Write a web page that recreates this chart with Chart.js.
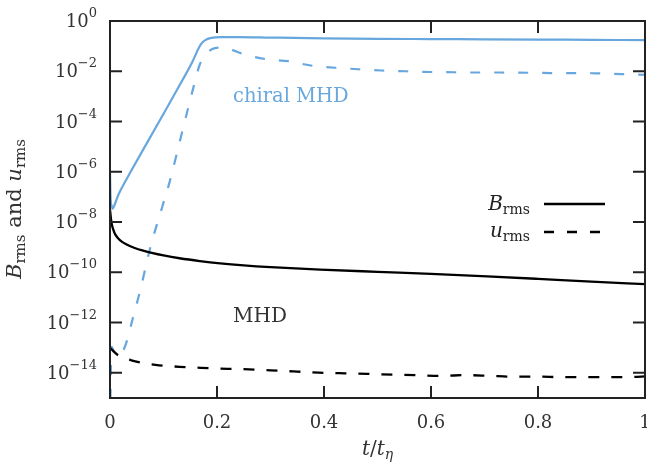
<!DOCTYPE html>
<html><head><meta charset="utf-8">
<script src="https://cdn.jsdelivr.net/npm/chart.js@4.4.1/dist/chart.umd.min.js"></script>
<style>html,body{margin:0;padding:0;background:#fff;}#wrap{width:647px;height:468px;position:relative;}</style>
</head><body><div id="wrap"><canvas id="c"></canvas></div>
<script>
// ---- axis ticks ----
const xTicks = [0, 0.2, 0.4, 0.6, 0.8, 1];
const xTickLabels = ['0', '0.2', '0.4', '0.6', '0.8', '1'];
const yTickExponents = [0, -2, -4, -6, -8, -10, -12, -14];

// ---- chiral MHD, B_rms (log10 values) ----
const tChiralB   = [0, 0.001, 0.003, 0.005, 0.008, 0.012, 0.016, 0.02, 0.037, 0.075, 0.112, 0.135, 0.155, 0.163, 0.17, 0.178, 0.19, 0.206, 0.24, 0.3, 0.4, 0.5, 0.6, 0.7, 0.8, 0.9, 1.0];
const logChiralB = [-6.0, -7.0, -7.35, -7.47, -7.35, -7.12, -6.9, -6.72, -6.06, -4.63, -3.24, -2.37, -1.58, -1.2, -0.92, -0.76, -0.67, -0.64, -0.64, -0.66, -0.69, -0.71, -0.72, -0.73, -0.74, -0.75, -0.76];

// ---- chiral MHD, u_rms (log10 values) ----
const tChiralU   = [0, 0.003, 0.008, 0.014, 0.02, 0.026, 0.032, 0.043, 0.056, 0.075, 0.097, 0.112, 0.135, 0.155, 0.168, 0.183, 0.196, 0.206, 0.224, 0.247, 0.292, 0.333, 0.378, 0.421, 0.464, 0.508, 0.553, 0.6, 0.643, 0.688, 0.731, 0.822, 0.907, 0.955, 1.0];
const logChiralU = [-16, -12.96, -13.2, -13.3, -13.25, -13.05, -12.7, -11.8, -10.76, -9.04, -7.44, -6.36, -4.4, -2.72, -1.72, -1.24, -1.08, -1.06, -1.12, -1.3, -1.52, -1.6, -1.78, -1.86, -1.92, -1.97, -2.0, -2.03, -2.04, -2.05, -2.05, -2.07, -2.08, -2.11, -2.14];

// ---- MHD, B_rms (log10 values) ----
const tMhdB   = [0, 0.002, 0.004, 0.007, 0.01, 0.015, 0.022, 0.032, 0.045, 0.062, 0.08, 0.1, 0.13, 0.168, 0.206, 0.25, 0.3, 0.393, 0.5, 0.6, 0.705, 0.8, 0.9, 1.0];
const logMhdB = [-7.5, -7.9, -8.15, -8.35, -8.5, -8.64, -8.78, -8.9, -9.02, -9.14, -9.24, -9.33, -9.44, -9.55, -9.64, -9.72, -9.79, -9.89, -9.98, -10.06, -10.16, -10.26, -10.37, -10.47];

// ---- MHD, u_rms (log10 values) ----
const tMhdU   = [0, 0.015, 0.04, 0.06, 0.085, 0.13, 0.17, 0.22, 0.26, 0.3, 0.35, 0.39, 0.44, 0.48, 0.53, 0.57, 0.62, 0.665, 0.71, 0.755, 0.8, 0.843, 0.89, 0.935, 0.98, 1.0];
const logMhdU = [-13.0, -13.3, -13.5, -13.6, -13.68, -13.76, -13.8, -13.84, -13.86, -13.9, -13.95, -13.99, -14.02, -14.04, -14.07, -14.09, -14.12, -14.09, -14.12, -14.15, -14.15, -14.17, -14.17, -14.17, -14.16, -14.14];

const BLUE = '#68a7dd';
const INK = '#222';
const SERIF = '"DejaVu Serif", serif';

function pts(ts, logs) { return ts.map((t, i) => ({ x: t, y: Math.pow(10, logs[i]) })); }

function rich(ctx, parts, x, y, align) {
  let w = 0;
  parts.forEach(p => { ctx.font = p[1]; w += ctx.measureText(p[0]).width; });
  let sx = align === 'right' ? x - w : (align === 'center' ? x - w / 2 : x);
  parts.forEach(p => { ctx.font = p[1]; ctx.fillText(p[0], sx, y + (p[2] || 0)); sx += ctx.measureText(p[0]).width; });
}

const framePlugin = {
  id: 'frame',
  afterDatasetsDraw(chart) {
    const { ctx, chartArea: a, scales: { x, y } } = chart;
    ctx.save();
    ctx.strokeStyle = INK; ctx.lineWidth = 2; ctx.setLineDash([]);
    ctx.strokeRect(a.left, a.top, a.right - a.left, a.bottom - a.top);
    ctx.beginPath();
    xTicks.forEach(v => {
      const px = x.getPixelForValue(v);
      ctx.moveTo(px, a.bottom); ctx.lineTo(px, a.bottom - 12);
      ctx.moveTo(px, a.top); ctx.lineTo(px, a.top + 12);
    });
    yTickExponents.forEach(e => {
      const py = y.getPixelForValue(Math.pow(10, e));
      ctx.moveTo(a.left, py); ctx.lineTo(a.left + 12, py);
      ctx.moveTo(a.right, py); ctx.lineTo(a.right - 12, py);
    });
    ctx.stroke();

    ctx.fillStyle = '#333';
    ctx.textBaseline = 'alphabetic';
    ctx.textAlign = 'left';
    xTicks.forEach((v, i) => {
      rich(ctx, [[xTickLabels[i], '18px ' + SERIF]], x.getPixelForValue(v), 428, 'center');
    });
    yTickExponents.forEach(e => {
      const py = y.getPixelForValue(Math.pow(10, e));
      const sup = e === 0 ? '0' : '\u2212' + Math.abs(e);
      rich(ctx, [['10', '18px ' + SERIF], [sup, '13px ' + SERIF, -10]], 97, py + 6, 'right');
    });
    rich(ctx, [['t', 'italic 20px ' + SERIF], ['/', '20px ' + SERIF], ['t', 'italic 20px ' + SERIF], ['\u03B7', 'italic 14px ' + SERIF, 4]], (a.left + a.right) / 2, 455, 'center');
    ctx.save();
    ctx.translate(21, 209);
    ctx.rotate(-Math.PI / 2);
    rich(ctx, [['B', 'italic 21px ' + SERIF], ['rms', '15px ' + SERIF, 4], [' and ', '21px ' + SERIF], ['u', 'italic 21px ' + SERIF], ['rms', '15px ' + SERIF, 4]], 0, 0, 'center');
    ctx.restore();

    ctx.fillStyle = BLUE;
    rich(ctx, [['chiral MHD', '19.5px ' + SERIF]], 233, 102, 'left');
    ctx.fillStyle = '#333';
    rich(ctx, [['MHD', '20px ' + SERIF]], 233, 322, 'left');

    ctx.fillStyle = INK;
    rich(ctx, [['B', 'italic 20px ' + SERIF], ['rms', '14px ' + SERIF, 4]], 530, 210, 'right');
    rich(ctx, [['u', 'italic 20px ' + SERIF], ['rms', '14px ' + SERIF, 4]], 530, 237, 'right');
    ctx.strokeStyle = '#000'; ctx.lineWidth = 2.4; ctx.lineCap = 'butt';
    ctx.beginPath(); ctx.moveTo(544, 204); ctx.lineTo(605, 204); ctx.stroke();
    ctx.setLineDash([10, 13]);
    ctx.beginPath(); ctx.moveTo(544, 232); ctx.lineTo(603, 232); ctx.stroke();
    ctx.restore();
  }
};

new Chart(document.getElementById('c'), {
  type: 'line',
  data: {
    datasets: [
      { label: 'MHD B', data: pts(tMhdB, logMhdB), borderColor: '#000', borderWidth: 2.3 },
      { label: 'MHD u', data: pts(tMhdU, logMhdU), borderColor: '#000', borderWidth: 2.3, borderDash: [11, 12] },
      { label: 'chiral u', data: pts(tChiralU, logChiralU), borderColor: BLUE, borderWidth: 2.2, borderDash: [10, 14] },
      { label: 'chiral B', data: pts(tChiralB, logChiralB), borderColor: BLUE, borderWidth: 2.2 }
    ]
  },
  options: {
    responsive: true, maintainAspectRatio: false, animation: false,
    layout: { padding: { left: 110, right: 2, top: 21, bottom: 70 } },
    elements: { point: { radius: 0 }, line: { cubicInterpolationMode: 'monotone', borderCapStyle: 'butt', fill: false } },
    plugins: { legend: { display: false }, tooltip: { enabled: false } },
    scales: {
      x: { type: 'linear', min: 0, max: 1, display: false },
      y: { type: 'logarithmic', min: 1e-15, max: 1, display: false }
    }
  },
  plugins: [framePlugin]
});
</script></body></html>
